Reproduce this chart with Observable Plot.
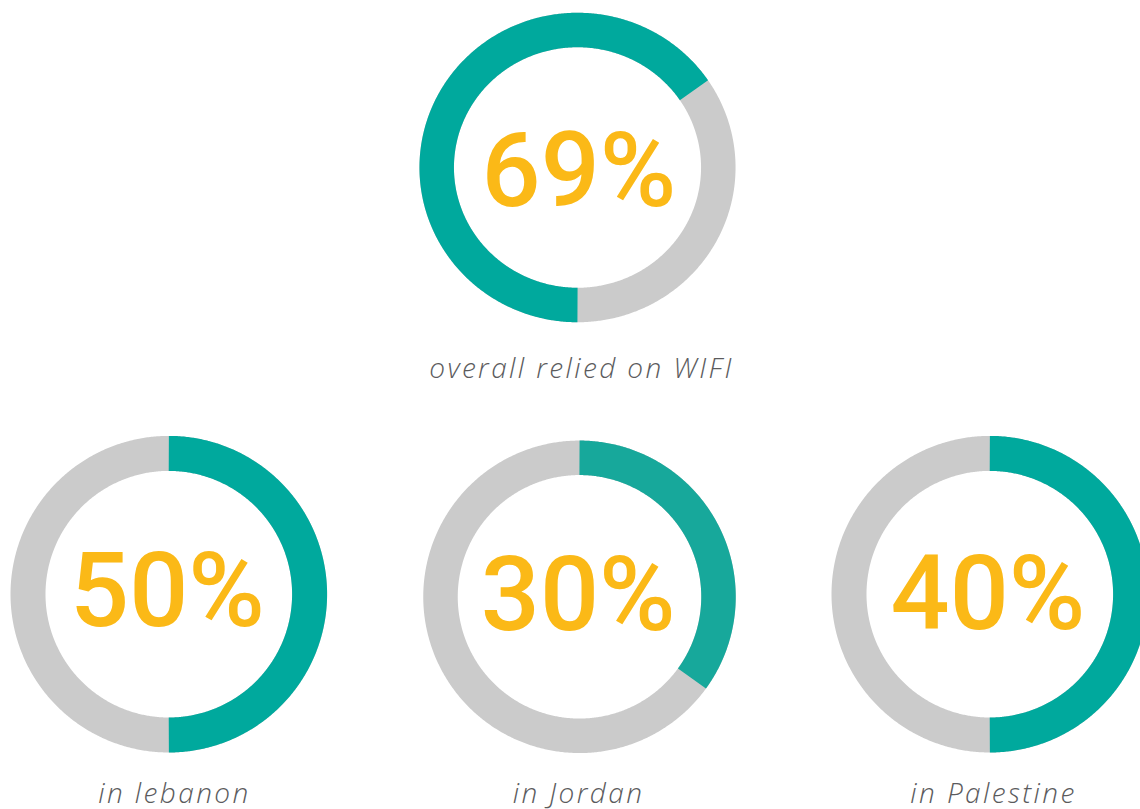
<!DOCTYPE html>
<html><head><meta charset="utf-8">
<script src="https://cdn.jsdelivr.net/npm/d3@7"></script>
<script src="https://cdn.jsdelivr.net/npm/@observablehq/plot@0.6"></script>
<style>html,body{margin:0;padding:0;background:#fff;overflow:hidden}</style>
</head><body><div id="chart"></div>
<script>
// ---- data ----
const groups = ["overall", "Lebanon", "Jordan", "Palestine"];
const captions = ["overall relied on WIFI", "in lebanon", "in Jordan", "in Palestine"];
const percentLabels = ["69%", "50%", "30%", "40%"];
// share of the ring drawn teal
const tealShare = [0.655, 0.5, 0.35, 0.5];
// where the teal arc starts (fraction of a turn, clockwise from 12 o'clock)
const tealStart = [0.5, 0, 0, 0];

// ---- layout & style (not data) ----
const tealColors = ["#00a99d", "#00a99d", "#17a89b", "#00a99d"];
const grayColor = "#cbcbcb";
const layout = [
  {cx: 577,   cy: 167,   rx: 140.8, ry: 137.5, sw: 34.5, tx: 578.5, tb: 205,   capX: 581,   capB: 377.5},
  {cx: 168.3, cy: 593.7, rx: 140.8, ry: 140.8, sw: 35,   tx: 167,   tb: 625,   capX: 174,   capB: 802},
  {cx: 579,   cy: 596.3, rx: 139,   ry: 139,   sw: 34.5, tx: 577.7, tb: 629.5, capX: 578,   capB: 802},
  {cx: 989.3, cy: 593.7, rx: 140.8, ry: 140.8, sw: 35,   tx: 987.5, tb: 628.3, capX: 993,   capB: 802}
];

function arcPoints(i, from, to) {
  const L = layout[i];
  const pts = [];
  const step = 0.5 / 360;
  const n = Math.max(2, Math.ceil((to - from) / step));
  for (let k = 0; k <= n; k++) {
    const t = from + (to - from) * k / n;
    const a = t * 2 * Math.PI;
    pts.push({g: groups[i], x: L.cx + L.rx * Math.sin(a), y: L.cy - L.ry * Math.cos(a)});
  }
  return pts;
}

const marks = [];
groups.forEach((g, i) => {
  const L = layout[i];
  marks.push(Plot.line(arcPoints(i, 0, 1.02), {x: "x", y: "y", stroke: grayColor, strokeWidth: L.sw, strokeLinecap: "butt", strokeLinejoin: "round", curve: "linear"}));
  marks.push(Plot.line(arcPoints(i, tealStart[i], tealStart[i] + tealShare[i]), {x: "x", y: "y", stroke: tealColors[i], strokeWidth: L.sw, strokeLinecap: "butt", strokeLinejoin: "round", curve: "linear"}));
});

marks.push(Plot.text(percentLabels, {
  x: (d, i) => layout[i].tx, y: (d, i) => layout[i].tb, text: d => d,
  textAnchor: "middle", lineAnchor: "bottom",
  fontFamily: "Roboto", fontWeight: 500, fontSize: 104, fill: "#fbb917"
}));
marks.push(Plot.text(captions, {
  x: (d, i) => layout[i].capX, y: (d, i) => layout[i].capB, text: d => d,
  textAnchor: "middle", lineAnchor: "bottom",
  fontFamily: "Open Sans", fontStyle: "italic", fontWeight: 300, fontSize: 28, fill: "#5b5b5d"
}));

const chart = Plot.plot({
  width: 1140, height: 809, margin: 0,
  x: {domain: [0, 1140], range: [0, 1140], axis: null},
  y: {domain: [0, 809], range: [0, 809], axis: null},
  style: {background: "#fff"},
  marks
});
document.getElementById("chart").append(chart);
// widen the caption lettering to match the reference typeface
const textGroups = chart.querySelectorAll('g[aria-label="text"]');
textGroups[textGroups.length - 1].style.letterSpacing = "2.4px";
</script>
</body></html>
